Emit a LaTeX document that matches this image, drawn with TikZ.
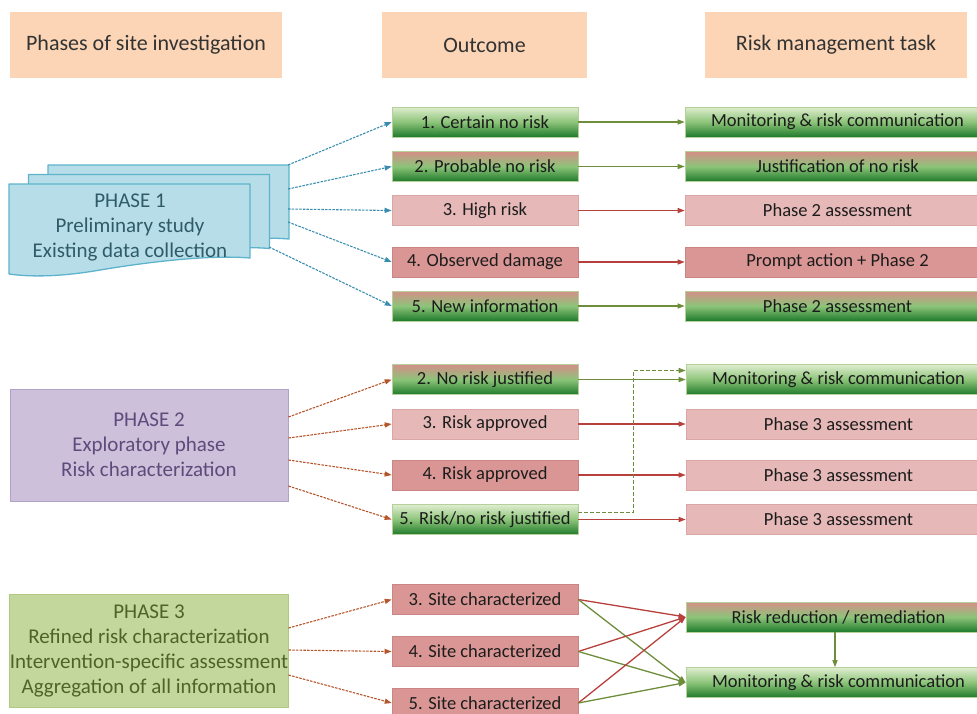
\documentclass[tikz,border=0pt]{standalone}
\usepackage{fontspec}
\setmainfont{Carlito}
\usetikzlibrary{arrows.meta,calc}

\definecolor{peach}{HTML}{FBD5B5}
\definecolor{sheetfill}{HTML}{B7DEE8}
\definecolor{sheetline}{HTML}{5DB3CB}
\definecolor{sheettext}{HTML}{2F5B68}
\definecolor{lilac}{HTML}{CCC0DA}
\definecolor{lilacline}{HTML}{B3A2C7}
\definecolor{lilactext}{HTML}{5F4B7B}
\definecolor{olivefill}{HTML}{C3D69B}
\definecolor{oliveline}{HTML}{AFC882}
\definecolor{olivetext}{HTML}{4F6228}
\definecolor{pinkfill}{HTML}{E6B9B8}
\definecolor{pinkline}{HTML}{DBA7A6}
\definecolor{redfill}{HTML}{D99694}
\definecolor{redline}{HTML}{CB8583}
\definecolor{gtop}{HTML}{DFEDCF}
\definecolor{gmid}{HTML}{8CC479}
\definecolor{gbot}{HTML}{1F7A2B}
\definecolor{rtop}{HTML}{D48F88}
\definecolor{gline}{HTML}{B5D09A}
\definecolor{bluearrow}{HTML}{3A8DAE}
\definecolor{brownarrow}{HTML}{B5552B}
\definecolor{greenarrow}{HTML}{6E8D3A}
\definecolor{redarrow}{HTML}{B8403C}
\definecolor{boxtext}{HTML}{1C1C1C}

\begin{document}
\begin{tikzpicture}[x=1pt,y=-1pt,
  txt/.style={font=\fontsize{18.5}{25}\selectfont},
  bigtxt/.style={font=\fontsize{21}{25}\selectfont},
  hdr/.style={font=\fontsize{22}{26}\selectfont, fill=peach, text=boxtext!90, minimum height=66, inner sep=0},
  obox/.style={txt, text=boxtext, minimum width=186, minimum height=30, inner sep=0, line width=0.6pt},
  rbox/.style={obox, minimum width=305},
  good/.style={top color=gtop, bottom color=gbot, middle color=gmid, draw=gline},
  mixed/.style={top color=rtop, bottom color=gbot, middle color=gmid, draw=gline},
  hirisk/.style={fill=pinkfill, draw=pinkline},
  damage/.style={fill=redfill, draw=redline},
  tip/.style={-{Triangle[length=7pt,width=5pt]}},
  bluelink/.style={tip, draw=bluearrow, line width=1.1pt, dash pattern=on 2.5pt off 1.2pt},
  brownlink/.style={tip, draw=brownarrow, line width=1.1pt, dash pattern=on 2.5pt off 1.2pt},
  greenlink/.style={tip, draw=greenarrow, line width=1.3pt},
  redlink/.style={tip, draw=redarrow, line width=1.3pt},
  sheet/.style={fill=sheetfill, draw=sheetline, line width=1.3pt, line join=round},
  phasebox/.style={bigtxt, align=center, inner sep=0, line width=0.8pt}
]
\useasboundingbox (0,0) rectangle (977,713);

% column headings
\node[hdr, minimum width=272] (h1) at (146,45) {Phases of site investigation};
\node[hdr, minimum width=205] (h2) at (484.5,45) {Outcome};
\node[hdr, minimum width=262] (h3) at (836,45) {Risk management task};

% phase 1: stack of three document sheets
\foreach \dx/\dy in {39/-19, 19.5/-9.5, 0/0} {
  \begin{scope}[shift={(\dx,\dy)}]
    \path[sheet] (9,184) -- (250,184) -- (250,258)
      .. controls (215,255) and (160,260) .. (100,270)
      .. controls (60,277) and (30,277) .. (9,274) -- cycle;
  \end{scope}
}
\node[bigtxt, text=sheettext, align=center] (p1) at (130,227) {PHASE 1\\Preliminary study\\Existing data collection};
\coordinate (s1) at (288,165);
\coordinate (s2) at (288,189);
\coordinate (s3) at (288,209);
\coordinate (s4) at (288,222);
\coordinate (s5) at (269,247);

% phase 2 and phase 3 boxes
\node[phasebox, fill=lilac, draw=lilacline, text=lilactext, minimum width=278, minimum height=112] (p2) at (149,445)
  {PHASE 2\\Exploratory phase\\Risk characterization};
\node[phasebox, fill=olivefill, draw=oliveline, text=olivetext, minimum width=278, minimum height=113] (p3) at (149,650.5)
  {PHASE 3\\Refined risk characterization\\Intervention-specific assessment\\Aggregation of all information};

% phase 1 outcomes and tasks
\node[obox, good]   (o11) at (485,122)   {1. Certain no risk};
\node[obox, mixed]  (o12) at (485,166.5) {2. Probable no risk};
\node[obox, hirisk] (o13) at (485,210.5) {3. High risk};
\node[obox, damage] (o14) at (485,262)   {4. Observed damage};
\node[obox, mixed]  (o15) at (485,306)   {5. New information};

\node[rbox, good]   (t11) at (837.5,122)   {Monitoring \& risk communication};
\node[rbox, mixed]  (t12) at (837.5,166.5) {Justification of no risk};
\node[rbox, hirisk] (t13) at (837.5,210.5) {Phase 2 assessment};
\node[rbox, damage] (t14) at (837.5,262)   {Prompt action + Phase 2};
\node[rbox, mixed]  (t15) at (837.5,306)   {Phase 2 assessment};

% phase 2 outcomes and tasks
\node[obox, mixed]  (o22) at (485,379.5) {2. No risk justified};
\node[obox, hirisk] (o23) at (485,424)   {3. Risk approved};
\node[obox, damage] (o24) at (485,475)   {4. Risk approved};
\node[obox, good]   (o25) at (485,519.5) {5. Risk/no risk justified};

\node[rbox, good]   (t22) at (838.5,379.5) {Monitoring \& risk communication};
\node[rbox, hirisk] (t23) at (838.5,424)   {Phase 3 assessment};
\node[rbox, hirisk] (t24) at (838.5,475)   {Phase 3 assessment};
\node[rbox, hirisk] (t25) at (838.5,519.5) {Phase 3 assessment};

% phase 3 outcomes and tasks
\node[obox, damage] (o33) at (485,599.5) {3. Site characterized};
\node[obox, damage] (o34) at (485,651.5) {4. Site characterized};
\node[obox, damage] (o35) at (485,703)   {5. Site characterized};

\node[rbox, mixed] (t31) at (838.5,617)   {Risk reduction / remediation};
\node[rbox, good]  (t32) at (838.5,682.5) {Monitoring \& risk communication};

% phase 1 links
\draw[bluelink] (s1) -- (o11.west);
\draw[bluelink] (s2) -- (o12.west);
\draw[bluelink] (s3) -- (o13.west);
\draw[bluelink] (s4) -- (o14.west);
\draw[bluelink] (s5) -- (o15.west);
\draw[greenlink] (o11) -- (t11);
\draw[greenlink] (o12) -- (t12);
\draw[redlink]   (o13) -- (t13);
\draw[redlink]   (o14) -- (t14);
\draw[greenlink] (o15) -- (t15);

% phase 2 links
\draw[brownlink] ($(p2.east)+(0,-28)$) -- (o22.west);
\draw[brownlink] ($(p2.east)+(0,-7)$)  -- (o23.west);
\draw[brownlink] ($(p2.east)+(0,15)$)  -- (o24.west);
\draw[brownlink] ($(p2.east)+(0,41)$)  -- (o25.west);
\draw[greenlink] (o22) -- (t22);
\draw[redlink]   (o23) -- (t23);
\draw[redlink]   (o24) -- (t24);
\draw[redlink]   (o25) -- (t25);
\draw[tip, draw=greenarrow, line width=1.2pt, dash pattern=on 4pt off 2pt]
  ($(o25.east)+(0,-7)$) -- ++(55,0) |- ($(t22.west)+(0,-9)$);

% phase 3 links
\draw[brownlink] ($(p3.east)+(0,-22.5)$) -- (o33.west);
\draw[brownlink] ($(p3.east)+(0,-0.5)$)  -- (o34.west);
\draw[brownlink] ($(p3.east)+(0,24.5)$)  -- (o35.west);
\foreach \o in {o33,o34,o35} {
  \draw[redlink]   (\o.east) -- (t31.west);
  \draw[greenlink] (\o.east) -- (t32.west);
}
\draw[greenlink, line width=1.1pt] (t31.south -| 835,0) -- (t32.north -| 835,0);
\end{tikzpicture}
\end{document}
